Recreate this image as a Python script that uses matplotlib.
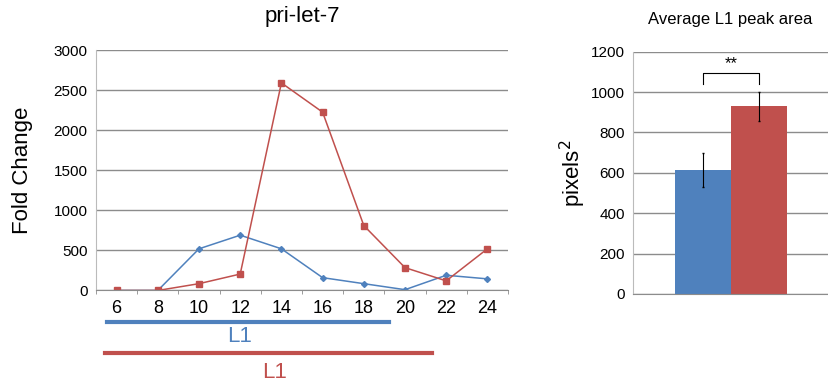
import numpy as np
import matplotlib.pyplot as plt

plt.rcParams['font.family'] = ['Liberation Sans', 'DejaVu Sans']

hours = ['6', '8', '10', '12', '14', '16', '18', '20', '22', '24']
blue_vals = [0, 0, 520, 690, 520, 160, 85, 10, 190, 145]
red_vals = [0, 0, 85, 205, 2590, 2225, 810, 285, 120, 520]

bar_vals = [615, 930]
bar_err = [85, 72]

blue = '#4F81BD'
red = '#C0504D'
grid_c = '#8C8C8C'

fig = plt.figure(figsize=(8.29, 3.85), dpi=100)

# linke Grafik
ax = fig.add_axes([0.1158, 0.2455, 0.497, 0.6245])
x = np.arange(len(hours))
ax.plot(x, blue_vals, color=blue, lw=1.1, marker='D', ms=3)
ax.plot(x, red_vals, color=red, lw=1.1, marker='s', ms=4)
ax.set_xlim(-0.5, len(hours) - 0.5)
ax.set_ylim(0, 3000)
ax.set_yticks(np.arange(0, 3001, 500))
ax.set_xticks(x)
ax.set_xticklabels(hours, fontsize=13)
ax.set_xticks(np.arange(-0.5, len(hours)), minor=True)
ax.tick_params(axis='x', which='major', length=0, pad=7)
ax.tick_params(axis='x', which='minor', length=3, color=grid_c)
ax.tick_params(axis='y', length=0, labelsize=11, pad=6)
ax.grid(axis='y', color=grid_c, lw=1)
ax.set_axisbelow(True)
for s in ['top', 'right']:
    ax.spines[s].set_visible(False)
ax.spines['left'].set_color('#BBBBBB')
ax.spines['bottom'].set_color(grid_c)
ax.set_ylabel('Fold Change', fontsize=16, labelpad=15)
ax.set_title('pri-let-7', fontsize=16, pad=20)

# Stadien-Linien unter der Achse
fig.add_artist(plt.Line2D([107/829, 389/829], [1-322/385, 1-322/385], color=blue, lw=3))
fig.text(240/829, 1-337/385, 'L1', color=blue, fontsize=16, ha='center', va='center')
fig.add_artist(plt.Line2D([105/829, 432/829], [1-353/385, 1-353/385], color=red, lw=3))
fig.text(275/829, 1-372/385, 'L1', color=red, fontsize=16, ha='center', va='center')

# rechte Grafik
ax2 = fig.add_axes([0.7636, 0.2364, 0.2352, 0.6293])
ax2.bar([0, 1], bar_vals, width=1, color=[blue, red], zorder=2)
ax2.errorbar([0, 1], bar_vals, yerr=bar_err, fmt='none', ecolor='black', elinewidth=0.8, capsize=1, zorder=3)
ax2.set_xlim(-1.25, 2.23)
ax2.set_ylim(0, 1200)
ax2.set_yticks(np.arange(0, 1201, 200))
ax2.set_xticks([])
ax2.tick_params(axis='y', length=0, labelsize=11, pad=6)
ax2.grid(axis='y', color=grid_c, lw=1)
ax2.set_axisbelow(True)
for s in ['top', 'right']:
    ax2.spines[s].set_visible(False)
ax2.spines['left'].set_color('#BBBBBB')
ax2.spines['bottom'].set_color(grid_c)
ax2.set_ylabel('pixels$^2$', fontsize=16, labelpad=2)
ax2.set_title('Average L1 peak area', fontsize=12, pad=20)

# Signifikanz
ax2.plot([0, 0, 1, 1], [1040, 1096, 1096, 1040], color='black', lw=0.8)
ax2.text(0.5, 1105, '**', ha='center', va='bottom', fontsize=12)

fig.savefig('out.png', dpi=100)
